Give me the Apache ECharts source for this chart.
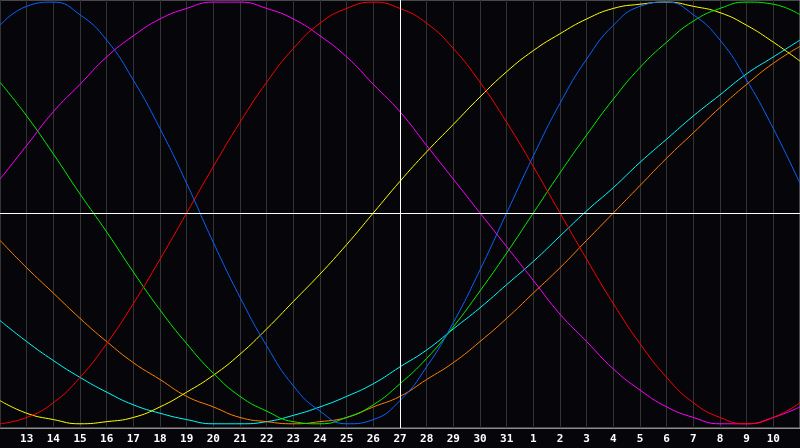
<!DOCTYPE html>
<html>
<head>
<meta charset="utf-8">
<script src="https://cdn.jsdelivr.net/npm/echarts@6/dist/echarts.min.js"></script>
<style>
html,body{margin:0;padding:0;background:#060509;}
#chart{width:800px;height:448px;}
</style>
</head>
<body>
<div id="chart"></div>
<script>
// Day labels (Sept 12 .. Oct 11); the first and last sit on the frame edges
const days = ['12','13','14','15','16','17','18','19','20','21','22','23','24','25','26','27','28','29','30','31',
              '1','2','3','4','5','6','7','8','9','10','11'];
const markerDay = '27';

// Cycle values, percent (-100..100), read per day from the picture
const physical23 = [89,98,100,94,82,63,40,14,-14,-40,-63,-82,-94,-100,-98,-89,-73,-52,-27,0,27,52,73,89,98,100,94,82,63,40,14];
const emotional28 = [-100,-97,-90,-78,-62,-43,-22,0,22,43,62,78,90,97,100,97,90,78,62,43,22,0,-22,-43,-62,-78,-90,-97,-100,-97,-90];
const intellectual33 = [62,46,28,9,-9,-28,-46,-62,-76,-87,-94,-99,-100,-97,-91,-81,-69,-54,-37,-19,0,19,37,54,69,81,91,97,100,99,94];
const intuitive38 = [16,32,48,61,74,84,92,97,100,100,97,92,84,74,61,48,32,16,0,-16,-32,-48,-61,-74,-84,-92,-97,-100,-100,-97,-92];
const aesthetic43 = [-89,-95,-98,-100,-99,-97,-92,-85,-77,-67,-55,-42,-29,-15,0,15,29,42,55,67,77,85,92,97,99,100,98,95,89,81,72];
const awareness48 = [-13,-26,-38,-50,-61,-71,-79,-87,-92,-97,-99,-100,-99,-97,-92,-87,-79,-71,-61,-50,-38,-26,-13,0,13,26,38,50,61,71,79];
const spiritual53 = [-51,-61,-70,-78,-85,-91,-95,-98,-100,-100,-99,-96,-92,-87,-81,-73,-65,-55,-45,-34,-23,-11,1,12,24,35,46,56,66,74,82];

const seriesDefs = [
  {name:'Spiritual', data:spiritual53, color:'#00ffff'},
  {name:'Awareness', data:awareness48, color:'#ff8000'},
  {name:'Aesthetic', data:aesthetic43, color:'#ffff00'},
  {name:'Intellectual', data:intellectual33, color:'#00f000'},
  {name:'Intuitive', data:intuitive38, color:'#ff00ff'},
  {name:'Emotional', data:emotional28, color:'#ff0000'},
  {name:'Physical', data:physical23, color:'#0a64ff'}
];

const chart = echarts.init(document.getElementById('chart'), null, {renderer:'canvas'});
const series = seriesDefs.map(s => ({
  name: s.name,
  type: 'line',
  data: s.data,
  smooth: 0.5,
  showSymbol: false,
  symbol: 'none',
  lineStyle: {color: s.color, width: 1},
  itemStyle: {color: s.color},
  animation: false,
  z: 3
}));
series.push({
  name: 'markers',
  type: 'line',
  data: [],
  animation: false,
  silent: true,
  markLine: {
    symbol: 'none',
    silent: true,
    label: {show: false},
    lineStyle: {color: '#ffffff', width: 1, type: 'solid'},
    data: [{xAxis: markerDay}, {yAxis: 0}]
  },
  z: 4
});

chart.setOption({
  backgroundColor: '#060509',
  animation: false,
  grid: {
    left: 0, right: -1, top: 0, bottom: 20,
    show: true, borderColor: '#8c8c8c', borderWidth: 1, backgroundColor: '#060509'
  },
  xAxis: {
    type: 'category',
    data: days,
    boundaryGap: false,
    axisLine: {show: true, onZero: false, lineStyle: {color: '#8c8c8c', width: 1}},
    axisTick: {show: false},
    splitLine: {show: true, interval: 0, lineStyle: {color: '#333333', width: 1}},
    axisLabel: {
      interval: (i) => i > 0 && i < days.length - 1,
      color: '#ffffff',
      fontFamily: 'DejaVu Sans Mono',
      fontWeight: 'bold',
      fontSize: 11,
      margin: 6
    }
  },
  yAxis: {
    type: 'value',
    min: -102, max: 101,
    show: false,
    splitLine: {show: false}
  },
  series: series
});
</script>
</body>
</html>
